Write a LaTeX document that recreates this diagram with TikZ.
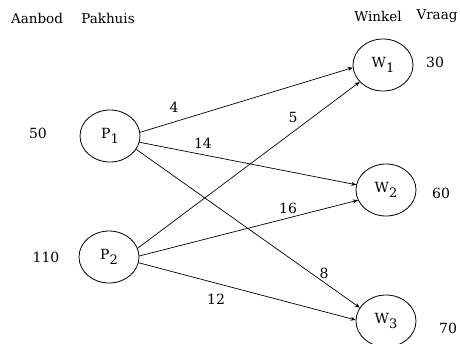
\documentclass[tikz,border=0pt]{standalone}
\usepackage{fontspec}
\setmainfont{DejaVu Serif}
\usetikzlibrary{shapes.geometric,arrows.meta}

\newcommand{\nodelabel}[2]{#1\raisebox{-0.4em}{\fontsize{13}{13}\selectfont #2}}

\begin{document}
\begin{tikzpicture}[x=1pt,y=-1pt,
  every node/.style={font=\fontsize{14}{16}\selectfont, inner sep=0pt},
  place/.style={ellipse, draw, line width=0.8pt, minimum width=60pt, minimum height=52pt},
  route/.style={line width=0.7pt, -{Stealth[length=5pt,width=4pt]}},
  cost/.style={font=\fontsize{14}{16}\selectfont},
  head/.style={font=\fontsize{13.5}{16}\selectfont}]
  \useasboundingbox (0,0) rectangle (460,343);

  % column headings
  \node[head] (hAanbod)  at (37,18)  {Aanbod};
  \node[head] (hPakhuis) at (108,18) {Pakhuis};
  \node[head] (hWinkel)  at (378,16) {Winkel};
  \node[head] (hVraag)   at (437,16) {Vraag};

  % warehouses and shops
  \node[place] (P1) at (110,136) {\nodelabel{P}{1}};
  \node[place] (P2) at (109,257) {\nodelabel{P}{2}};
  \node[place] (W1) at (383,65)  {\nodelabel{W}{1}};
  \node[place] (W2) at (386,190) {\nodelabel{W}{2}};
  \node[place] (W3) at (386,321) {\nodelabel{W}{3}};

  % supply and demand
  \node (s1) at (38,133)  {50};
  \node (s2) at (46,257)  {110};
  \node (d1) at (435,62)  {30};
  \node (d2) at (441,193) {60};
  \node (d3) at (448,328) {70};

  % routes with transport costs
  \draw[route] (P1.7)   -- (W1.185);
  \draw[route] (P1.-12) -- (W2.170);
  \draw[route] (P1.-27) -- (W3.153);
  \draw[route] (P2.17)  -- (W1.216);
  \draw[route] (P2.2)   -- (W2.200);
  \draw[route] (P2.-11) -- (W3.178);

  \node[cost] (c11) at (174,107) {4};
  \node[cost] (c12) at (203,143) {14};
  \node[cost] (c21) at (293,117) {5};
  \node[cost] (c22) at (288,208) {16};
  \node[cost] (c13) at (324,273) {8};
  \node[cost] (c23) at (216,299) {12};
\end{tikzpicture}
\end{document}
